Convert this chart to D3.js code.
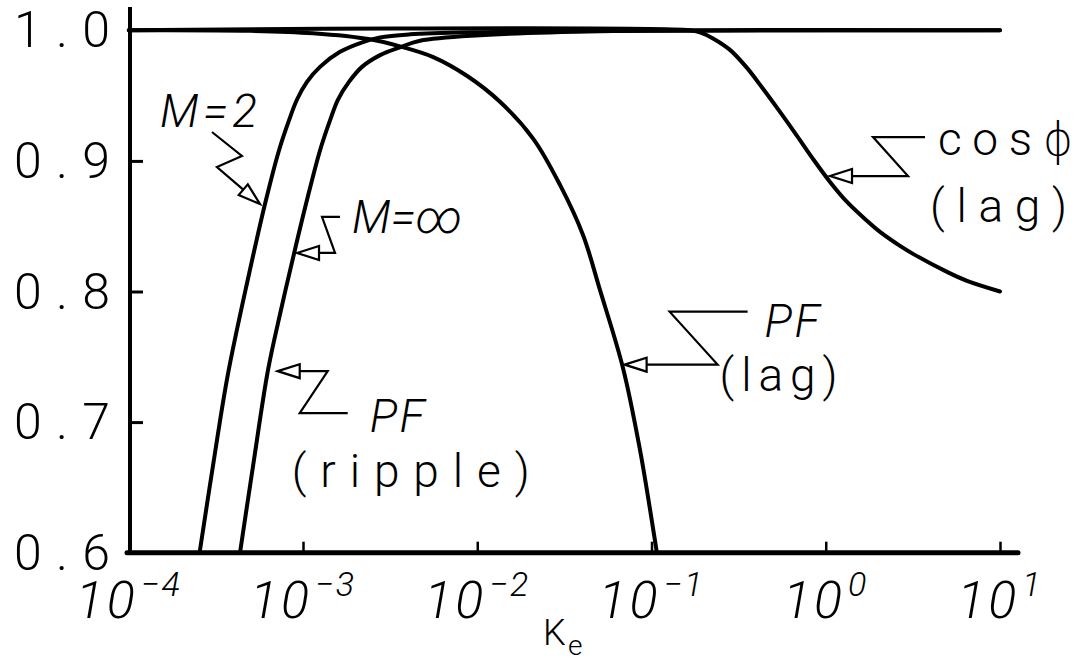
<!DOCTYPE html>
<html>
<head>
<meta charset="utf-8">
<script src="https://cdn.jsdelivr.net/npm/d3@7"></script>
<style>
  html, body { margin: 0; padding: 0; background: #fff; }
  svg { display: block; }
  text { font-family: Roboto, "DejaVu Sans", sans-serif; font-weight: 300; fill: #000; }
</style>
</head>
<body>
<div id="chart"></div>
<script>
// tick values and labels
const kTicks = [1e-4, 1e-3, 1e-2, 1e-1, 1, 10];
const kExponents = ["\u22124", "\u22123", "\u22122", "\u22121", "0", "1"];
const pfTicks = [0.6, 0.7, 0.8, 0.9, 1.0];
const pfTickLabels = ["0.6", "0.7", "0.8", "0.9", "1.0"];

// series: [Ke, PF]
const rippleM2 = [
  [2.55e-4, 0.600], [3.08e-4, 0.671], [3.70e-4, 0.736], [4.82e-4, 0.809],
  [6.13e-4, 0.870], [7.28e-4, 0.908], [8.31e-4, 0.931], [9.24e-4, 0.947],
  [1.054e-3, 0.9605], [1.252e-3, 0.972], [1.631e-3, 0.9835], [2.21e-3, 0.991],
  [2.77e-3, 0.9946], [4.11e-3, 0.9969], [9.09e-3, 0.9985], [5.06e-2, 0.9995],
  [10, 1.0]
];
const rippleMInf = [
  [4.35e-4, 0.600], [5.23e-4, 0.671], [6.30e-4, 0.740], [7.48e-4, 0.786],
  [8.99e-4, 0.832], [1.054e-3, 0.870], [1.252e-3, 0.908], [1.429e-3, 0.931],
  [1.588e-3, 0.947], [1.836e-3, 0.9605], [2.18e-3, 0.972], [2.77e-3, 0.981],
  [3.60e-3, 0.987], [4.69e-3, 0.992], [1.037e-2, 0.9962], [5.06e-2, 0.9993],
  [10, 1.0]
];
const pfLag = [
  [1e-4, 1.0], [4.96e-4, 0.9996], [1.141e-3, 0.9977], [2.42e-3, 0.9931],
  [3.60e-3, 0.9877], [5.59e-3, 0.9795], [8.76e-3, 0.9650], [1.355e-2, 0.9451],
  [2.097e-2, 0.9169], [2.985e-2, 0.8816], [4.045e-2, 0.8433], [5.06e-2, 0.8012],
  [6.86e-2, 0.7415], [8.59e-2, 0.6787], [1.061e-1, 0.6044], [1.074e-1, 0.600]
];
const cosPhiLag = [
  [1e-4, 1.0], [0.1663, 1.0], [0.1898, 0.9984], [0.2253, 0.9938], [0.2822, 0.9850],
  [0.3532, 0.9712], [0.4364, 0.9552], [0.5463, 0.9375], [0.6839, 0.9192],
  [0.8449, 0.9015], [1.0578, 0.8839], [1.3243, 0.8686], [1.7246, 0.8541],
  [2.048, 0.8456], [2.668, 0.8349], [3.168, 0.8288], [4.964, 0.8150],
  [6.465, 0.8081], [10, 0.800]
];

const width = 1080, height = 663;

const svg = d3.select('#chart').append('svg')
  .attr('width', width)
  .attr('height', height);

const x = d3.scaleLog().domain([1e-4, 10]).range([128.75, 1000]);
const y = d3.scaleLinear().domain([0.6, 1.0]).range([552.7, 30.3]);

// tick marks (inward), domain lines drawn separately
const xAxisG = svg.append('g')
  .attr('transform', `translate(0, ${y(0.6)})`)
  .call(d3.axisBottom(x).tickValues(kTicks.slice(1)).tickSize(-11).tickFormat(''));
xAxisG.select('.domain').remove();
xAxisG.selectAll('.tick line').attr('stroke', '#000').attr('stroke-width', 2.5);

const yAxisG = svg.append('g')
  .attr('transform', `translate(130, 0)`)
  .call(d3.axisLeft(y).tickValues([0.7, 0.8, 0.9]).tickSize(-13).tickFormat(''));
yAxisG.select('.domain').remove();
yAxisG.selectAll('.tick line').attr('stroke', '#000').attr('stroke-width', 3);

// axis lines
svg.append('line')
  .attr('x1', 127).attr('x2', 1018)
  .attr('y1', y(0.6)).attr('y2', y(0.6))
  .attr('stroke', '#000').attr('stroke-width', 5).attr('stroke-linecap', 'round');
svg.append('line')
  .attr('x1', 130).attr('x2', 130)
  .attr('y1', 7).attr('y2', y(0.6) + 2)
  .attr('stroke', '#000').attr('stroke-width', 4);

// y tick labels
svg.selectAll('.ylabel')
  .data(pfTicks)
  .join('text')
  .attr('class', 'ylabel')
  .attr('x', 14)
  .attr('y', d => y(d) + 17)
  .attr('font-size', 50)
  .attr('textLength', 96)
  .attr('lengthAdjust', 'spacing')
  .text((d, i) => pfTickLabels[i]);

// x tick labels: 10 with superscript exponent
kTicks.forEach((k, i) => {
  const g = svg.append('g');
  const base = g.append('text')
    .attr('font-size', 52)
    .attr('font-style', 'italic')
    .attr('letter-spacing', 3)
    .attr('y', 618)
    .text('10');
  const sup = g.append('text')
    .attr('font-size', 34)
    .attr('font-style', 'italic')
    .attr('letter-spacing', 2)
    .attr('y', 596)
    .text(kExponents[i]);
  const wb = base.node().getComputedTextLength() + 3;
  const ws = sup.node().getComputedTextLength();
  const start = x(k) - (wb + ws) / 2;
  base.attr('x', start);
  sup.attr('x', start + wb);
});

// x axis title: K with subscript e
svg.append('text')
  .attr('x', 543).attr('y', 645)
  .attr('font-size', 36)
  .attr('font-weight', 400)
  .text('K');
svg.append('text')
  .attr('x', 568).attr('y', 655)
  .attr('font-size', 28)
  .attr('font-weight', 700)
  .text('e');

// curves
const line = d3.line()
  .x(d => x(d[0]))
  .y(d => y(d[1]))
  .curve(d3.curveCatmullRom.alpha(0.5));

[rippleM2, rippleMInf, pfLag, cosPhiLag].forEach(series => {
  svg.append('path')
    .datum(series)
    .attr('fill', 'none')
    .attr('stroke', '#000')
    .attr('stroke-width', 4)
    .attr('stroke-linejoin', 'round')
    .attr('stroke-linecap', 'round')
    .attr('d', line);
});

// zigzag leaders with open arrow heads, anchored at a point in data units
const annotations = [
  { at: [5.66e-4, 0.867], path: [[-48, -72], [-18, -48], [-43, -37]],
    labels: [{ t: 'M=2', dx: -100, dy: -77, w: 97, italic: true }] },
  { at: [9.24e-4, 0.8295], path: [[43, -36], [25, -36], [38, 0]],
    labels: [{ t: 'M=\u221e', dx: 55, dy: -20, w: 101, italic: true }] },
  { at: [7.16e-4, 0.739], path: [[70, 42], [22, 42], [50, 0]],
    labels: [{ t: 'PF', dx: 92, dy: 61, w: 55, italic: true },
             { t: '(ripple)', dx: 14, dy: 116, w: 238 }] },
  { at: [0.0701, 0.744], path: [[123, -53], [45, -53], [93, 0]],
    labels: [{ t: 'PF', dx: 140, dy: -28, w: 55, italic: true },
             { t: '(lag)', dx: 95, dy: 26, w: 118 }] },
  { at: [1.058, 0.8884], path: [[95, -39], [43, -39], [78, 0]],
    labels: [{ t: 'cos\u03d5', dx: 108, dy: -21, w: 135 },
             { t: '(lag)', dx: 100, dy: 46, w: 137 }] }
];

annotations.forEach(a => {
  const tx = x(a.at[0]), ty = y(a.at[1]);
  const last = a.path[a.path.length - 1];
  const len = Math.hypot(last[0], last[1]);
  const ux = -last[0] / len, uy = -last[1] / len;
  const bx = -ux * 22, by = -uy * 22;
  const nx = -uy * 7, ny = ux * 7;
  const pts = a.path.map(p => [tx + p[0], ty + p[1]]).concat([[tx + bx, ty + by]]);
  svg.append('path')
    .attr('d', d3.line()(pts))
    .attr('fill', 'none')
    .attr('stroke', '#000')
    .attr('stroke-width', 2.2);
  svg.append('path')
    .attr('d', d3.line()([[tx, ty], [tx + bx + nx, ty + by + ny], [tx + bx - nx, ty + by - ny]]) + 'Z')
    .attr('fill', '#fff')
    .attr('stroke', '#000')
    .attr('stroke-width', 2.2)
    .attr('stroke-linejoin', 'miter');
  a.labels.forEach(l => {
    const txt = svg.append('text')
      .attr('x', tx + l.dx)
      .attr('y', ty + l.dy)
      .attr('font-size', 46)
      .attr('font-style', l.italic ? 'italic' : 'normal')
      .text(l.t);
    // stretch only when the natural text is narrower than in the picture
    if (txt.node().getComputedTextLength() < l.w) {
      txt.attr('textLength', l.w).attr('lengthAdjust', 'spacing');
    }
  });
});
</script>
</body>
</html>
